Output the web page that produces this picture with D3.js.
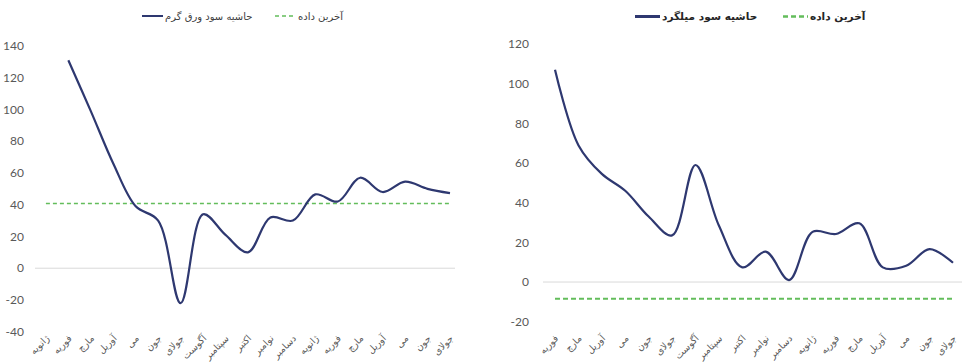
<!DOCTYPE html>
<html><head><meta charset="utf-8">
<script src="https://cdn.jsdelivr.net/npm/d3@7"></script>
<style>
html,body{margin:0;padding:0;background:#fff;}
svg{display:block;}
</style></head>
<body>
<svg id="chart" width="962" height="363"></svg>
<script>
// ---------- DATA ----------
const leftCategories = ["ژانویه","فوریه","مارچ","آوریل","می","جون","جولای","آگوست","سپتامبر","اکتبر","نوامبر","دسامبر","ژانویه","فوریه","مارچ","آوریل","می","جون","جولای"];
const leftMargin = [null,131,99,66,39,30,-22,34,21,10,32,30,46.5,42,57,48,54.5,50,47.3];
const leftLast = 40.8;
const leftTicks = [-40,-20,0,20,40,60,80,100,120,140];
const leftSeriesName = "حاشیه سود ورق گرم";

const rightCategories = ["فوریه","مارچ","آوریل","می","جون","جولای","آگوست","سپتامبر","اکتبر","نوامبر","دسامبر","ژانویه","فوریه","مارچ","آوریل","می","جون","جولای"];
const rightMargin = [107,69,54.5,46,33,23.5,59,28.5,7.4,15.3,1,25.3,24.2,29.6,7.4,8.2,16.6,9.7];
const rightLast = -8.4;
const rightTicks = [-20,0,20,40,60,80,100,120];
const rightSeriesName = "حاشیه سود میلگرد";

const lastName = "آخرین داده";

// ---------- STYLE ----------
const navy = "#2e3870";
const green = "#63bd5b";
const axisGray = "#595959";
const gridGray = "#d9d9d9";
const numFont = "Lato, 'Open Sans', sans-serif";
const arFont = "'DejaVu Sans', sans-serif";

const svg = d3.select("#chart");

function drawChart(cfg){
  const g = svg.append("g");
  const x = d3.scalePoint().domain(d3.range(cfg.categories.length)).range(cfg.xRange);
  const y = d3.scaleLinear().domain(cfg.yDomain).range(cfg.yRange);

  // zero gridline
  g.append("line")
    .attr("x1", cfg.gridX[0]).attr("x2", cfg.gridX[1])
    .attr("y1", y(0)).attr("y2", y(0))
    .attr("stroke", gridGray).attr("stroke-width", 1);

  // y tick labels
  g.selectAll("text.ytick").data(cfg.ticks).enter().append("text")
    .attr("class","ytick")
    .attr("x", cfg.tickX).attr("y", d => y(d)).attr("dy","0.35em")
    .attr("text-anchor","end")
    .attr("font-family", numFont).attr("font-size", 12)
    .attr("fill", axisGray)
    .text(d => d);

  // x labels
  g.selectAll("text.xlab").data(cfg.categories).enter().append("text")
    .attr("class","xlab")
    .attr("transform", (d,i) => `translate(${x(i)+cfg.labDx},${cfg.labY}) rotate(-45)`)
    .attr("text-anchor","end")
    .attr("font-family", arFont).attr("font-size", cfg.labSize)
    .attr("fill", axisGray)
    .text(d => d);

  // last-data dashed series
  const lastData = cfg.categories.map(() => cfg.last);
  g.append("path")
    .datum(lastData)
    .attr("fill","none").attr("stroke", green)
    .attr("stroke-width", cfg.dashW).attr("stroke-dasharray", cfg.dash)
    .attr("d", d3.line().x((d,i)=>x(i)).y(d=>y(d)));

  // main smoothed series
  g.append("path")
    .datum(cfg.values)
    .attr("fill","none").attr("stroke", navy)
    .attr("stroke-width", 2.2).attr("stroke-linejoin","round")
    .attr("d", d3.line().defined(d => d !== null)
      .x((d,i)=>x(i)).y(d=>y(d)).curve(d3.curveCatmullRom.alpha(0.5)));

  // legend
  const L = cfg.legend;
  g.append("line").attr("x1", L.s1[0]).attr("x2", L.s1[1]).attr("y1", L.y).attr("y2", L.y)
    .attr("stroke", navy).attr("stroke-width", L.w1);
  g.append("text").attr("x", L.t1).attr("y", L.y).attr("dy","0.35em")
    .attr("font-family", arFont).attr("font-size", L.size).attr("font-weight", L.weight)
    .attr("fill", L.color).text(cfg.name);
  g.append("line").attr("x1", L.s2[0]).attr("x2", L.s2[1]).attr("y1", L.y).attr("y2", L.y)
    .attr("stroke", green).attr("stroke-width", L.w2).attr("stroke-dasharray", cfg.dash);
  g.append("text").attr("x", L.t2).attr("y", L.y).attr("dy","0.35em")
    .attr("font-family", arFont).attr("font-size", L.size).attr("font-weight", L.weight)
    .attr("fill", L.color).text(lastName);
}

drawChart({
  categories: leftCategories, values: leftMargin, last: leftLast, ticks: leftTicks, name: leftSeriesName,
  xRange: [45.9, 450], gridX: [35, 455],
  yDomain: [-40, 140], yRange: [331.7, 46],
  tickX: 24, labDx: 4, labY: 339, labSize: 9.5,
  dash: "4,3", dashW: 1.5,
  legend: {y: 16, s1: [142,163], t1: 165, s2: [275,293], t2: 298, w1: 2, w2: 1.5, size: 10, weight: "normal", color: "#404040"}
});

drawChart({
  categories: rightCategories, values: rightMargin, last: rightLast, ticks: rightTicks, name: rightSeriesName,
  xRange: [555, 953], gridX: [543, 962],
  yDomain: [-20, 120], yRange: [321.7, 44],
  tickX: 529, labDx: 4, labY: 339, labSize: 9.5,
  dash: "5,3", dashW: 2,
  legend: {y: 16.5, s1: [635,660], t1: 662, s2: [783,808], t2: 810, w1: 3, w2: 2.5, size: 10.5, weight: "bold", color: "#262626"}
});
</script>
</body></html>
